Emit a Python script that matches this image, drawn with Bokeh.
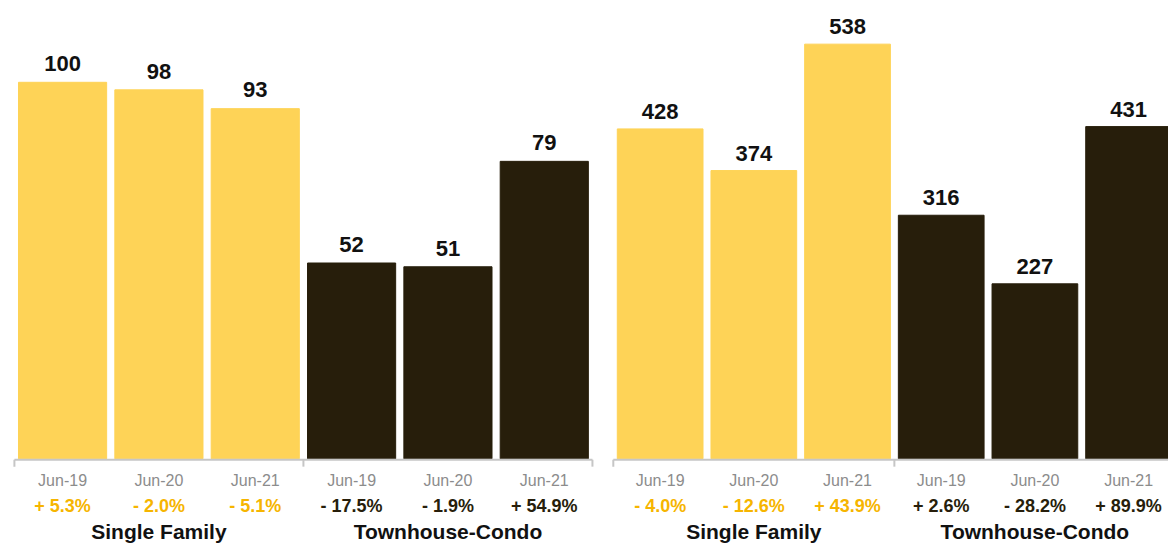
from bokeh.plotting import figure
from bokeh.layouts import row
from bokeh.models import Range1d, ColumnDataSource
from bokeh.embed import file_html
from bokeh.resources import INLINE
from bokeh.core.properties import value

# ---- data ----
groups = ["Single Family", "Townhouse-Condo"]
periods = ["Jun-19", "Jun-20", "Jun-21"]

left_sf = [100, 98, 93]
left_tc = [52, 51, 79]
left_sf_pct = ["+ 5.3%", "- 2.0%", "- 5.1%"]
left_tc_pct = ["- 17.5%", "- 1.9%", "+ 54.9%"]

right_sf = [428, 374, 538]
right_tc = [316, 227, 431]
right_sf_pct = ["- 4.0%", "- 12.6%", "+ 43.9%"]
right_tc_pct = ["+ 2.6%", "- 28.2%", "+ 89.9%"]

# ---- style ----
FONT = value("Liberation Sans")
BAR_COLORS = ["#FED357", "#271E0B"]
PCT_COLORS = ["#F6B500", "#271E0B"]
DATE_COLOR = "#8C8C8C"
AXIS_COLOR = "#C6C6C6"

TOTAL_W, TOTAL_H = 1168, 545       # drawable area
REF_W, REF_H = 1176, 553           # reference picture size
SX = TOTAL_W / REF_W
BASE = 465                         # baseline in reference pixels
BELOW = REF_H - BASE               # reference px below baseline
ABOVE = BASE                       # reference px above baseline
SPLIT_REF = 607                    # split between the two panels (reference px)


def panel(sf, tc, sf_pct, tc_pct, width, x_start, x_end, ppu, gap):
    n = len(periods)
    p = figure(width=width, height=TOTAL_H, output_backend="svg", toolbar_location=None,
               x_range=Range1d(x_start, x_end),
               y_range=Range1d(-BELOW / ppu, ABOVE / ppu),
               min_border=0, min_border_left=0, min_border_right=0,
               min_border_top=0, min_border_bottom=0)
    p.extra_y_ranges = {"px": Range1d(-BELOW, ABOVE)}
    p.xaxis.visible = False
    p.yaxis.visible = False
    p.xgrid.visible = False
    p.ygrid.visible = False
    p.outline_line_color = None
    p.background_fill_color = "white"
    p.border_fill_color = "white"

    vals = sf + tc
    pcts = sf_pct + tc_pct
    xs = [i + 0.5 for i in range(2 * n)]
    bar_col = [BAR_COLORS[0]] * n + [BAR_COLORS[1]] * n
    pct_col = [PCT_COLORS[0]] * n + [PCT_COLORS[1]] * n
    src = ColumnDataSource(dict(x=xs, top=vals, bc=bar_col, pc=pct_col,
                                lab=[str(v) for v in vals],
                                ly=[v + gap / ppu for v in vals],
                                date=periods * 2, pct=pcts))
    p.vbar(x="x", top="top", bottom=0, width=0.915, color="bc", source=src)

    p.text(x="x", y="ly", text="lab", source=src, text_align="center",
           text_baseline="alphabetic", text_font=FONT, text_font_style="bold",
           text_font_size="22px", text_color="#111111")

    # bracket axis
    p.segment(x0=[0, 0, n, 2 * n], y0=[-1, -1, -1, -1],
              x1=[2 * n, 0, n, 2 * n], y1=[-1, -8, -8, -8],
              line_color=AXIS_COLOR, line_width=2, y_range_name="px")

    p.text(x="x", y=-22, text="date", source=src, text_align="center",
           text_baseline="alphabetic", text_font=FONT, text_font_size="16px",
           text_color=DATE_COLOR, y_range_name="px")
    p.text(x="x", y=-48, text="pct", source=src, text_align="center",
           text_baseline="alphabetic", text_font=FONT, text_font_style="bold",
           text_font_size="18px", text_color="pc", y_range_name="px")
    p.text(x=[n / 2, n + n / 2], y=[-74, -74], text=groups, text_align="center",
           text_baseline="alphabetic", text_font=FONT, text_font_style="bold",
           text_font_size="21px", text_color="#111111", y_range_name="px")
    return p


w1 = round(SPLIT_REF * SX)
w2 = TOTAL_W - w1
split = w1 / SX  # split in reference px

# left panel: axis from 14 to 596 (97 px per slot) in reference px
p1 = panel(left_sf, left_tc, left_sf_pct, left_tc_pct, w1,
           -14 / 97.0, (split - 14) / 97.0, 3.82, 19)
# right panel: axis starts at 617 (94.33 px per slot) in reference px
p2 = panel(right_sf, right_tc, right_sf_pct, right_tc_pct, w2,
           (split - 617) / 94.33, (REF_W - 617) / 94.33, 0.782, 17.5)

layout = row(p1, p2, spacing=0)
open("out.html", "w").write(file_html(layout, INLINE))
